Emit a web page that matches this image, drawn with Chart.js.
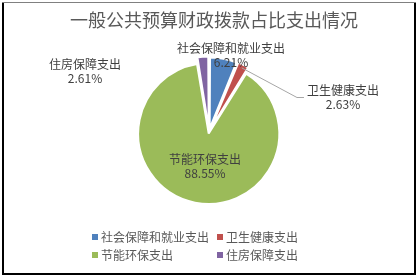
<!DOCTYPE html>
<html>
<head>
<meta charset="utf-8">
<script src="https://cdn.jsdelivr.net/npm/chart.js@4/dist/chart.umd.min.js"></script>
<style>
  html, body { margin: 0; padding: 0; background: #fff; }
  canvas { display: block; }
</style>
</head>
<body>
<canvas id="myChart" width="419" height="279"></canvas>
<script>
// data
var titleText = '一般公共预算财政拨款占比支出情况';
var cat_ls = ['社会保障和就业支出', '卫生健康支出', '节能环保支出', '住房保障支出'];
var pct_ls = [6.21, 2.63, 88.55, 2.61];

var color_ls = ['#4F81BD', '#C0504D', '#9BBB59', '#8064A2'];
// label text centre, relative to pie centre (px)
var lblPos = [[22, -77], [134, -35], [-4, 34], [-124, -61]];
var fontCJK = '"Noto Sans CJK SC", "Noto Sans", sans-serif';

var drawExtras = {
    id: 'drawExtras',
    afterDraw: function (chart) {
        var ctx = chart.ctx;
        var meta = chart.getDatasetMeta(0);
        ctx.save();

        // frame
        ctx.fillStyle = '#000';
        ctx.fillRect(2, 2, 2, 273);
        ctx.fillRect(414, 2, 2, 273);
        ctx.fillRect(2, 273, 414, 2);
        ctx.fillStyle = '#808080';
        ctx.fillRect(2, 2, 414, 1);

        // title
        ctx.fillStyle = '#595959';
        ctx.font = '18px ' + fontCJK;
        ctx.textAlign = 'center';
        ctx.textBaseline = 'middle';
        ctx.fillText(titleText, 214, 20);

        // data labels
        ctx.font = '12px ' + fontCJK;
        for (var i = 0; i < meta.data.length; i++) {
            var arc = meta.data[i];
            var cx = arc.x + lblPos[i][0];
            var cy = arc.y + lblPos[i][1];
            ctx.fillStyle = '#404040';
            ctx.fillText(cat_ls[i], cx, cy - 6.5);
            ctx.fillText(pct_ls[i].toFixed(2) + '%', cx, cy + 7);
            if (i == 1) {
                // leader line
                var mid = (arc.startAngle + arc.endAngle) / 2;
                var r = arc.outerRadius + 3;
                var x0 = arc.x + Math.cos(mid) * r;
                var y0 = arc.y + Math.sin(mid) * r;
                var w = ctx.measureText(cat_ls[i]).width;
                var x2 = cx - w / 2 - 3;
                ctx.strokeStyle = '#A6A6A6';
                ctx.lineWidth = 1;
                ctx.beginPath();
                ctx.moveTo(x0, y0);
                ctx.lineTo(x2 - 7, cy + 0.5);
                ctx.lineTo(x2, cy + 0.5);
                ctx.stroke();
            }
        }

        // legend
        ctx.textAlign = 'left';
        var legX = [92, 217];
        var legY = [237, 255];
        for (var j = 0; j < cat_ls.length; j++) {
            var lx = legX[j % 2];
            var ly = legY[Math.floor(j / 2)];
            ctx.fillStyle = color_ls[j];
            ctx.fillRect(lx, ly - 3, 6, 6);
            ctx.fillStyle = '#595959';
            ctx.fillText(cat_ls[j], lx + 9, ly);
        }
        ctx.restore();
    }
};

var myChart = new Chart(document.getElementById('myChart'), {
    type: 'pie',
    data: {
        labels: cat_ls,
        datasets: [{
            data: pct_ls,
            backgroundColor: color_ls,
            borderColor: '#ffffff',
            borderWidth: 2,
            offset: [14, 14, 6, 14],
            radius: 69
        }]
    },
    options: {
        responsive: false,
        animation: false,
        layout: { padding: { left: 0, right: 1, top: 0, bottom: 15 } },
        plugins: {
            legend: { display: false },
            title: { display: false },
            tooltip: { enabled: false }
        }
    },
    plugins: [drawExtras]
});
</script>
</body>
</html>
